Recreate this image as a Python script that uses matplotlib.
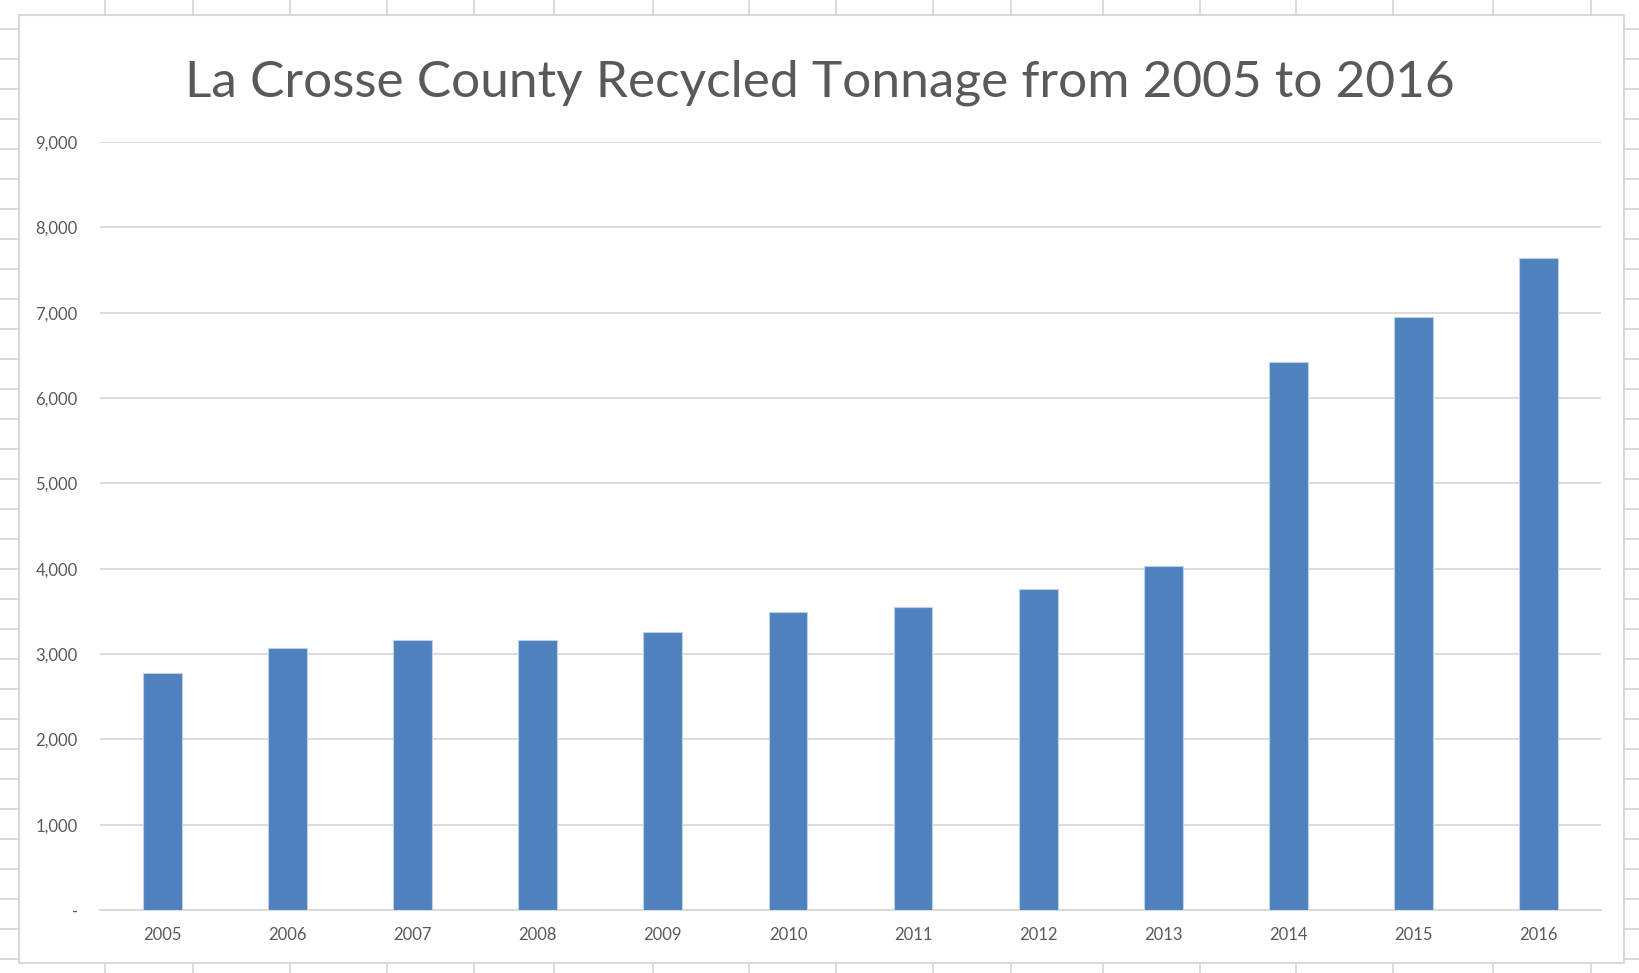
import matplotlib
matplotlib.use('Agg')
import matplotlib.pyplot as plt
from matplotlib.lines import Line2D
from matplotlib.patches import Rectangle
from matplotlib.ticker import FuncFormatter

years = ['2005', '2006', '2007', '2008', '2009', '2010',
         '2011', '2012', '2013', '2014', '2015', '2016']
tonnage = [2780, 3075, 3160, 3160, 3255, 3490,
           3550, 3760, 4030, 6420, 6945, 7645]

W, H = 1639, 973
plt.rcParams['font.family'] = ['Lato', 'DejaVu Sans']
fig = plt.figure(figsize=(W / 100, H / 100), dpi=100)

def px(x, y):
    return x / W, 1 - y / H

# spreadsheet cells peeking around the chart
grid_c = '#d4d4d4'
cols = [105, 193, 290, 387, 474, 554, 653, 749, 836, 933, 1011,
        1103, 1200, 1296, 1393, 1493, 1591]
for x in cols:
    for y0, y1 in [(0, 15), (963, H)]:
        (xa, ya), (xb, yb) = px(x, y0), px(x, y1)
        fig.add_artist(Line2D([xa, xb], [ya, yb], color=grid_c, lw=1.2))
for y in range(29, H, 30):
    for x0, x1 in [(0, 19), (1624, W)]:
        (xa, ya), (xb, yb) = px(x0, y), px(x1, y)
        fig.add_artist(Line2D([xa, xb], [ya, yb], color=grid_c, lw=1.2))

# chart frame
fig.add_artist(Rectangle(px(19, 963), (1624 - 19) / W, (963 - 15) / H,
                         transform=fig.transFigure, facecolor='white',
                         edgecolor='#d9d9d9', lw=1.5, zorder=0))

ax = fig.add_axes([100 / W, 1 - 910 / H, 1501 / W, (910 - 142) / H])
ax.set_facecolor('none')
ax.bar(years, tonnage, width=0.31, color='#4f81bd', edgecolor='#bcd0ea',
       linewidth=0.8, zorder=3)
ax.set_ylim(0, 9000)
ax.set_xlim(-0.5, len(years) - 0.5)
ax.set_yticks(range(0, 9001, 1000))
ax.yaxis.set_major_formatter(FuncFormatter(lambda v, p: '-' if v == 0 else f'{int(v):,}'))
ax.grid(axis='y', color='#d9d9d9', lw=1.3, zorder=0)
ax.set_axisbelow(True)
for s in ['top', 'right', 'left']:
    ax.spines[s].set_visible(False)
ax.spines['bottom'].set_color('#d9d9d9')
ax.spines['bottom'].set_linewidth(1.3)
ax.tick_params(length=0, colors='#595959', labelsize=12)
ax.tick_params(axis='y', pad=16)
ax.tick_params(axis='x', pad=12)

fig.text(0.5, 1 - 96 / H, 'La Crosse County Recycled Tonnage from 2005 to 2016',
         ha='center', va='baseline', fontsize=37, color='#595959')

fig.savefig('out.png', dpi=100)
